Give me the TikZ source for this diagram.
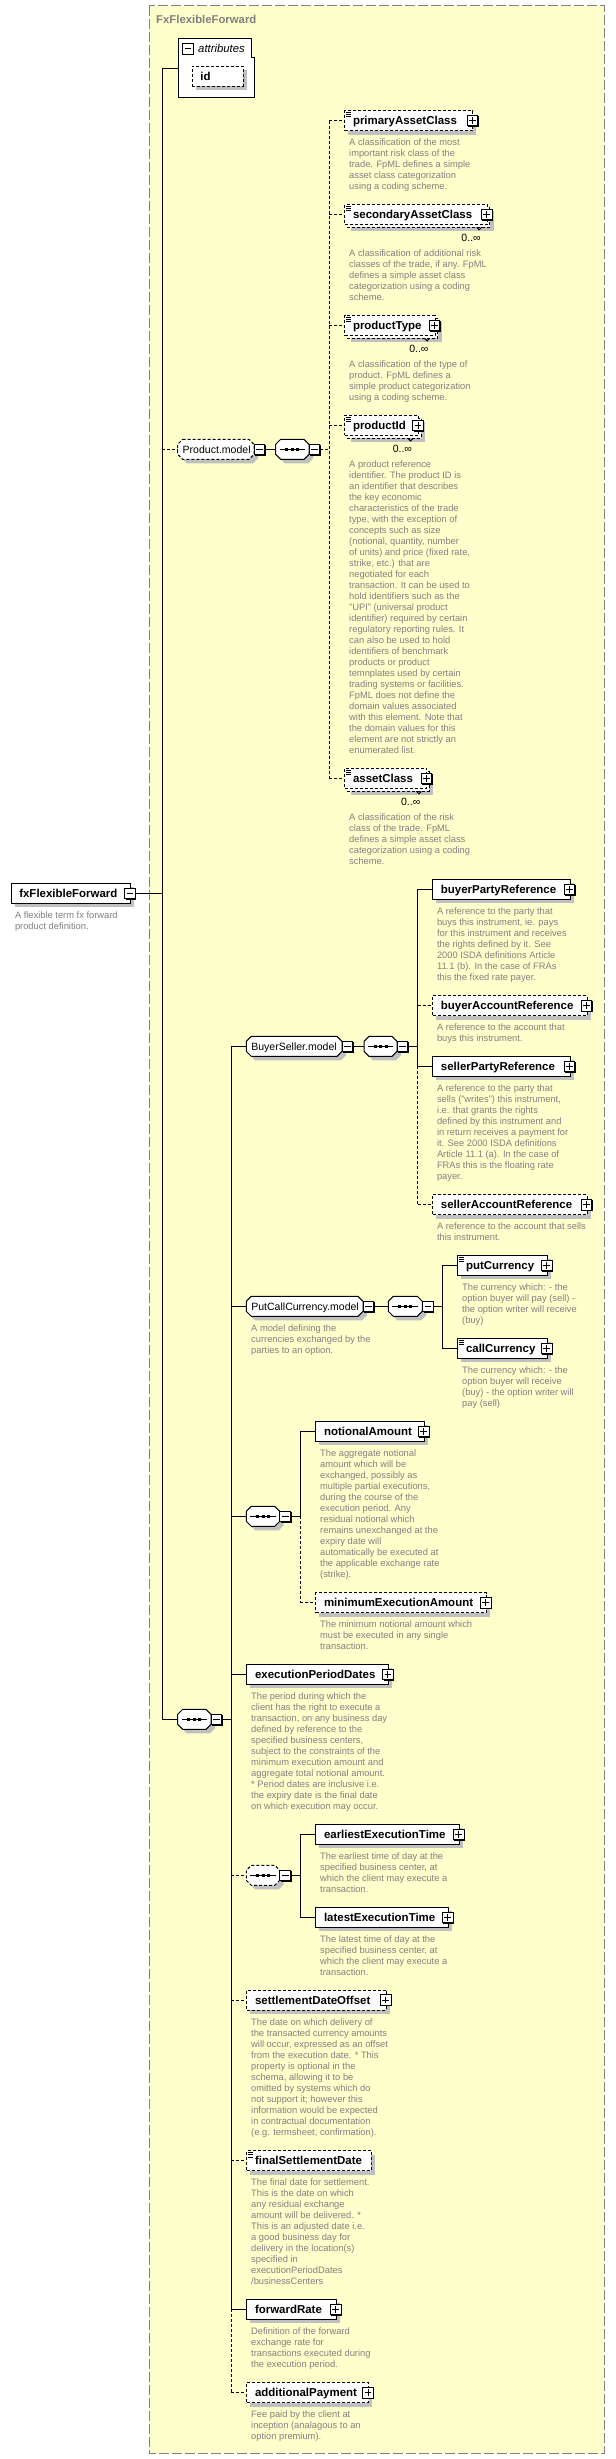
\documentclass[tikz,border=0pt]{standalone}
\usepackage{fontspec}
\setmainfont{Liberation Sans}
\usetikzlibrary{calc}
\definecolor{bgyellow}{HTML}{FFFFCC}
\definecolor{boxgray}{HTML}{808080}
\definecolor{desccol}{HTML}{808080}
\definecolor{shadecol}{HTML}{C0C0C0}
\tikzset{
  ebox/.style={draw=black, fill=white, line width=0.75pt, inner sep=0pt, minimum height=15pt, rectangle},
  optl/.style={dash pattern=on 2.25pt off 1.5pt},
  req/.style={solid},
  lab/.style={font={\fontsize{8.6}{10}\selectfont\bfseries}, inner sep=0pt, text=black},
  mlab/.style={font={\fontsize{7.9}{9}\selectfont}, inner sep=0pt, text=black},
  dtext/.style={font={\fontsize{7}{8.25}\selectfont}, text=desccol, inner sep=0pt},
  shd/.style={fill=shadecol},
}
% element box
\newcommand\elem[6]{%
  \fill[shd] (#2+4,#4-6) rectangle (#3+4,#4+14);
  \node[ebox,#5,minimum width={(#3-#2)*0.75pt},anchor=west] (#1) at (#2,#4) {};
  \node[lab,anchor=base west] (#1-t) at (#2+8.2,#4+4) {#6};
}
% multi-occurrence element box
\newcommand\melem[6]{%
  \fill[shd] (#2+7,#4-3) rectangle (#3+7,#4+17);
  \filldraw[fill=white,line width=0.75pt,#5] (#2+3,#4-7) rectangle (#3+3,#4+13);
  \draw[line width=0.75pt] (#3-10,#4+13) -- (#3-7.5,#4+15.5) -- (#3-5,#4+13);
  \node[ebox,#5,minimum width={(#3-#2)*0.75pt},anchor=west] (#1) at (#2,#4) {};
  \node[lab,anchor=base west] (#1-t) at (#2+8.2,#4+4) {#6};
  \node[mlab,anchor=base east] (#1-m) at (#3-5.5,#4+27.5) {0..∞};
}
\newcommand\eqicon[2]{%
  \draw[line width=0.75pt] (#1+1.4,#2-8) -- ++(5.3,0) (#1+1.4,#2-5.8) -- ++(5.3,0) (#1+1.4,#2-3.6) -- ++(5.3,0);
}
\newcommand\plusicon[2]{%
  \fill[black] (#1-4.3,#2-4.3) rectangle (#1+6.3,#2+6.3);
  \filldraw[fill=white,draw=black,line width=0.75pt] (#1-5.3,#2-5.3) rectangle (#1+5.3,#2+5.3);
  \draw[line width=0.75pt] (#1-3.3,#2) -- (#1+3.3,#2) (#1,#2-3.3) -- (#1,#2+3.3);
}
\newcommand\minusicon[2]{%
  \fill[black] (#1-4.3,#2-4.3) rectangle (#1+6.3,#2+6.3);
  \filldraw[fill=white,draw=black,line width=0.75pt] (#1-5.3,#2-5.3) rectangle (#1+5.3,#2+5.3);
  \draw[line width=0.75pt] (#1-3.3,#2) -- (#1+3.3,#2);
}
% compositor / group octagon
\newcommand\octo[5]{%
  \fill[shd] (#2+9,#4-6) -- (#3-1,#4-6) -- (#3+4,#4-1) -- (#3+4,#4+9) -- (#3-1,#4+14) -- (#2+9,#4+14) -- (#2+4,#4+9) -- (#2+4,#4-1) -- cycle;
  \filldraw[fill=white,line width=0.75pt,#5] (#2+5,#4-10) -- (#3-5,#4-10) -- (#3,#4-5) -- (#3,#4+5) -- (#3-5,#4+10) -- (#2+5,#4+10) -- (#2,#4+5) -- (#2,#4-5) -- cycle;
  \node[inner sep=0pt,minimum width={(#3-#2)*0.75pt},minimum height=15pt,anchor=west] (#1) at (#2,#4) {};
  \coordinate (#1-out) at (#3+11,#4);
  \minusicon{#3+5.5}{#4}
}
\newcommand\seqmark[3]{%
  \draw[line width=0.75pt] (#1+4,#3) -- (#2-4,#3);
  \fill ({(#1+#2)/2-7},{#3-1.5}) rectangle ++(3,3);
  \fill ({(#1+#2)/2-1.5},{#3-1.5}) rectangle ++(3,3);
  \fill ({(#1+#2)/2+4},{#3-1.5}) rectangle ++(3,3);
}
\newcommand\desc[4]{%
  \foreach \ln [count=\i from 0] in {#4} {\node[dtext,anchor=base west] (#1-\i) at (#2,#3+3+11*\i) {\ln};}
}
\begin{document}
\begin{tikzpicture}[x=0.75pt,y=-0.75pt,line width=0.75pt]
\useasboundingbox (0,0) rectangle (615,2459);
\fill[white] (0,0) rectangle (615,2459);
% type box
\filldraw[fill=bgyellow,draw=boxgray,dash pattern=on 7.5pt off 2.25pt] (149.3,5.7) rectangle (604,2453);
\node[font={\fontsize{8.5}{10}\selectfont\bfseries},text=boxgray,inner sep=0pt,anchor=base west] (title) at (155.7,23) {FxFlexibleForward};

% attributes
\filldraw[fill=white,line width=0.75pt] (178,38.3) -- (251,38.3) -- (251,57.3) -- (254.5,57.3) -- (254.5,97.3) -- (178,97.3) -- cycle;
\node[inner sep=0pt,minimum width={76.5*0.75pt},minimum height={59*0.75pt},anchor=north west] (attr) at (178,38.3) {};
\minusicon{187.8}{48.7}
\node[font={\fontsize{8.5}{10}\selectfont\itshape},inner sep=0pt,anchor=base west] (attr-t) at (197.7,52) {attributes};
\elem{idb}{191.7}{242.7}{76.3}{optl}{id}

% main vertical
\coordinate (mv1) at (162.3,68.3);
\coordinate (mv2) at (162.3,1719.3);
\draw (mv1) -- (mv2);
\draw (mv1) -- (mv1 -| attr.west);

% root element
\elem{root}{10.6}{130}{893.3}{req}{fxFlexibleForward}
\coordinate (root-out) at (135.3,893.3);
\draw (root-out) -- (root-out -| mv1);
\minusicon{130}{893.3}
\desc{rootd}{14.5}{915.7}{{A flexible term fx forward},{product definition.}}

% Product.model
\octo{prodm}{177.7}{254}{449.3}{optl}
\node[mlab,anchor=base west] (prodm-t) at (182.2,453.1) {Product.model};
\octo{prodseq}{275.7}{309}{449.3}{req}
\seqmark{275.7}{309}{449.3}
\draw[optl] (mv1 |- prodm.west) -- (prodm.west);
\draw (prodm-out) -- (prodseq.west);
\coordinate (pv1) at (329.3,120.5);
\coordinate (pv2) at (329.3,778.3);
\draw[optl] (prodseq-out) -- (prodseq-out -| pv1);
\draw[optl] (pv1) -- (pv2);

\elem{pac}{344.3}{472.3}{120.5}{optl}{primaryAssetClass}
\eqicon{344.3}{120.5}\plusicon{472.3}{120.5}
\draw[optl] (pac.west -| pv1) -- (pac.west);
\desc{pacd}{348.7}{142.7}{{A classification of the most},{important risk class of the},{trade. FpML defines a simple},{asset class categorization},{using a coding scheme.}}

\melem{sac}{344.3}{486.7}{214.3}{optl}{secondaryAssetClass}
\eqicon{344.3}{214.3}\plusicon{486.7}{214.3}
\draw[optl] (sac.west -| pv1) -- (sac.west);
\desc{sacd}{348.7}{253.7}{{A classification of additional risk},{classes of the trade, if any. FpML},{defines a simple asset class},{categorization using a coding},{scheme.}}

\melem{ptype}{344.3}{434.5}{325.3}{optl}{productType}
\eqicon{344.3}{325.3}\plusicon{434.5}{325.3}
\draw[optl] (ptype.west -| pv1) -- (ptype.west);
\desc{ptyped}{348.7}{364.7}{{A classification of the type of},{product. FpML defines a},{simple product categorization},{using a coding scheme.}}

\melem{pid}{344.3}{418}{425.3}{optl}{productId}
\eqicon{344.3}{425.3}\plusicon{418}{425.3}
\draw[optl] (pid.west -| pv1) -- (pid.west);
\desc{pidd}{348.7}{464.7}{{A product reference},{identifier. The product ID is},{an identifier that describes},{the key economic},{characteristics of the trade},{type, with the exception of},{concepts such as size},{(notional, quantity, number},{of units) and price (fixed rate,},{strike, etc.) that are},{negotiated for each},{transaction. It can be used to},{hold identifiers such as the},{"UPI" (universal product},{identifier) required by certain},{regulatory reporting rules. It},{can also be used to hold},{identifiers of benchmark},{products or product},{temnplates used by certain},{trading systems or facilities.},{FpML does not define the},{domain values associated},{with this element. Note that},{the domain values for this},{element are not strictly an},{enumerated list.}}

\melem{acls}{344.3}{426.3}{778.3}{optl}{assetClass}
\eqicon{344.3}{778.3}\plusicon{426.3}{778.3}
\draw[optl] (acls.west -| pv1) -- (acls.west);
\desc{aclsd}{348.7}{817.7}{{A classification of the risk},{class of the trade. FpML},{defines a simple asset class},{categorization using a coding},{scheme.}}

% main sequence
\octo{mseq}{177.7}{211}{1719.3}{req}
\seqmark{177.7}{211}{1719.3}
\draw (mv2) -- (mseq.west);
\coordinate (sv1) at (231.3,1046.3);
\coordinate (sv2) at (231.3,2309.3);
\coordinate (sv3) at (231.3,2392.7);
\draw (mseq-out) -- (mseq-out -| sv1);
\draw (sv1) -- (sv2);
\draw[optl] (sv2) -- (sv3);

% BuyerSeller.model
\octo{bsm}{246.3}{342}{1046.3}{req}
\node[mlab,anchor=base west] (bsm-t) at (250.8,1050.1) {BuyerSeller.model};
\octo{bsseq}{364}{397}{1046.3}{req}
\seqmark{364}{397}{1046.3}
\draw (sv1) -- (bsm.west);
\draw (bsm-out) -- (bsseq.west);
\coordinate (bv1) at (417.6,889.3);
\coordinate (bv2) at (417.6,1066.3);
\coordinate (bv3) at (417.6,1204.7);
\draw (bsseq-out) -- (bsseq-out -| bv1);
\draw (bv1) -- (bv2);
\draw[optl] (bv2) -- (bv3);

\elem{bpr}{432.2}{569.5}{889.3}{req}{buyerPartyReference}
\plusicon{569.5}{889.3}
\draw (bpr.west -| bv1) -- (bpr.west);
\desc{bprd}{436.5}{911.7}{{A reference to the party that},{buys this instrument, ie. pays},{for this instrument and receives},{the rights defined by it. See},{2000 ISDA definitions Article},{11.1 (b). In the case of FRAs},{this the fixed rate payer.}}

\elem{bar}{432.2}{586.5}{1005.7}{optl}{buyerAccountReference}
\plusicon{586.5}{1005.7}
\draw[optl] (bar.west -| bv1) -- (bar.west);
\desc{bard}{436.5}{1027.7}{{A reference to the account that},{buys this instrument.}}

\elem{spr}{432.2}{569.5}{1066.3}{req}{sellerPartyReference}
\plusicon{569.5}{1066.3}
\draw (spr.west -| bv1) -- (spr.west);
\desc{sprd}{436.5}{1088.7}{{A reference to the party that},{sells ("writes") this instrument,},{i.e. that grants the rights},{defined by this instrument and},{in return receives a payment for},{it. See 2000 ISDA definitions},{Article 11.1 (a). In the case of},{FRAs this is the floating rate},{payer.}}

\elem{sar}{432.2}{586.5}{1204.7}{optl}{sellerAccountReference}
\plusicon{586.5}{1204.7}
\draw[optl] (sar.west -| bv1) -- (sar.west);
\desc{sard}{436.5}{1226.7}{{A reference to the account that sells},{this instrument.}}

% PutCallCurrency.model
\octo{pcm}{246.3}{363}{1306.3}{req}
\node[mlab,anchor=base west] (pcm-t) at (250.8,1310.1) {PutCallCurrency.model};
\octo{pcseq}{388.3}{422.3}{1306.3}{req}
\seqmark{388.3}{422.3}{1306.3}
\draw (pcm.west -| sv1) -- (pcm.west);
\draw (pcm-out) -- (pcseq.west);
\coordinate (cv1) at (442.3,1265.3);
\coordinate (cv2) at (442.3,1348.3);
\draw (pcseq-out) -- (pcseq-out -| cv1);
\draw (cv1) -- (cv2);
\desc{pcmd}{250.7}{1328.7}{{A model defining the},{currencies exchanged by the},{parties to an option.}}

\elem{putc}{457.3}{546.7}{1265.3}{req}{putCurrency}
\eqicon{457.3}{1265.3}\plusicon{546.7}{1265.3}
\draw (putc.west -| cv1) -- (putc.west);
\desc{putcd}{461.7}{1287.7}{{The currency which: - the},{option buyer will pay (sell) -},{the option writer will receive},{(buy)}}

\elem{callc}{457.3}{546.7}{1348.3}{req}{callCurrency}
\eqicon{457.3}{1348.3}\plusicon{546.7}{1348.3}
\draw (callc.west -| cv1) -- (callc.west);
\desc{callcd}{461.7}{1370.7}{{The currency which: - the},{option buyer will receive},{(buy) - the option writer will},{pay (sell)}}

% notional sequence
\octo{nseq}{246.3}{279.7}{1516.3}{req}
\seqmark{246.3}{279.7}{1516.3}
\draw (nseq.west -| sv1) -- (nseq.west);
\coordinate (nv1) at (300.3,1431.3);
\coordinate (nv2) at (300.3,1516.3);
\coordinate (nv3) at (300.3,1602.7);
\draw (nseq-out) -- (nv2);
\draw (nv1) -- (nv2);
\draw[optl] (nv2) -- (nv3);

\elem{namt}{315.3}{423.7}{1431.3}{req}{notionalAmount}
\plusicon{423.7}{1431.3}
\draw (namt.west -| nv1) -- (namt.west);
\desc{namtd}{319.7}{1453.7}{{The aggregate notional},{amount which will be},{exchanged, possibly as},{multiple partial executions,},{during the course of the},{execution period. Any},{residual notional which},{remains unexchanged at the},{expiry date will},{automatically be executed at},{the applicable exchange rate},{(strike).}}

\elem{mea}{315.3}{485.7}{1602.7}{optl}{minimumExecutionAmount}
\plusicon{485.7}{1602.7}
\draw[optl] (mea.west -| nv1) -- (mea.west);
\desc{mead}{319.7}{1624.7}{{The minimum notional amount which},{must be executed in any single},{transaction.}}

% executionPeriodDates
\elem{epd}{246.3}{387.8}{1674.3}{req}{executionPeriodDates}
\plusicon{387.8}{1674.3}
\draw (epd.west -| sv1) -- (epd.west);
\desc{epdd}{250.7}{1696.7}{{The period during which the},{client has the right to execute a},{transaction, on any business day},{defined by reference to the},{specified business centers,},{subject to the constraints of the},{minimum execution amount and},{aggregate total notional amount.},{* Period dates are inclusive i.e.},{the expiry date is the final date},{on which execution may occur.}}

% execution time sequence
\octo{tseq}{246.3}{279.7}{1875.3}{optl}
\seqmark{246.3}{279.7}{1875.3}
\draw[optl] (tseq.west -| sv1) -- (tseq.west);
\coordinate (tv1) at (300.3,1834.3);
\coordinate (tv2) at (300.3,1917.3);
\draw (tseq-out) -- (tseq-out -| tv1);
\draw (tv1) -- (tv2);

\elem{eet}{315.3}{458.7}{1834.3}{req}{earliestExecutionTime}
\plusicon{458.7}{1834.3}
\draw (eet.west -| tv1) -- (eet.west);
\desc{eetd}{319.7}{1856.7}{{The earliest time of day at the},{specified business center, at},{which the client may execute a},{transaction.}}

\elem{let}{315.3}{447.7}{1917.3}{req}{latestExecutionTime}
\plusicon{447.7}{1917.3}
\draw (let.west -| tv1) -- (let.west);
\desc{letd}{319.7}{1939.7}{{The latest time of day at the},{specified business center, at},{which the client may execute a},{transaction.}}

% settlementDateOffset
\elem{sdo}{246.3}{385.7}{2000}{optl}{settlementDateOffset}
\plusicon{385.7}{2000}
\draw[optl] (sdo.west -| sv1) -- (sdo.west);
\desc{sdod}{250.7}{2022.7}{{The date on which delivery of},{the transacted currency amounts},{will occur, expressed as an offset},{from the execution date. * This},{property is optional in the},{schema, allowing it to be},{omitted by systems which do},{not support it; however this},{information would be expected},{in contractual documentation},{(e.g. termsheet, confirmation).}}

% finalSettlementDate
\elem{fsd}{246.3}{370.7}{2160.7}{optl}{finalSettlementDate}
\eqicon{246.3}{2160.7}
\draw[optl] (fsd.west -| sv1) -- (fsd.west);
\desc{fsdd}{250.7}{2182.7}{{The final date for settlement.},{This is the date on which},{any residual exchange},{amount will be delivered. *},{This is an adjusted date i.e.},{a good business day for},{delivery in the location(s)},{specified in},{executionPeriodDates},{/businessCenters}}

% forwardRate
\elem{fr}{246.3}{335.7}{2309.3}{req}{forwardRate}
\plusicon{335.7}{2309.3}
\draw (sv2) -- (fr.west);
\desc{frd}{250.7}{2331.7}{{Definition of the forward},{exchange rate for},{transactions executed during},{the execution period.}}

% additionalPayment
\elem{ap}{246.3}{368}{2392.7}{optl}{additionalPayment}
\plusicon{368}{2392.7}
\draw[optl] (sv3) -- (ap.west);
\desc{apd}{250.7}{2414.7}{{Fee paid by the client at},{inception (analagous to an},{option premium).}}
\end{tikzpicture}
\end{document}
